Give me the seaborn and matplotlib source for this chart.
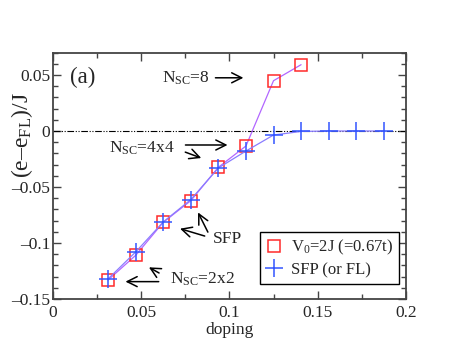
import matplotlib
matplotlib.use("Agg")
import matplotlib.pyplot as plt
from matplotlib.lines import Line2D
from matplotlib.ticker import MultipleLocator
import seaborn as sns
import pandas as pd

# data
doping_v0 = [0.03125, 0.046875, 0.0625, 0.078125, 0.09375, 0.109375, 0.125, 0.140625]
energy_v0 = [-0.133, -0.111, -0.0815, -0.0622, -0.0324, -0.0134, 0.0449, 0.0592]
doping_sfp = [0.03125, 0.046875, 0.0625, 0.078125, 0.09375, 0.109375, 0.125, 0.140625,
              0.15625, 0.171875, 0.1875]
energy_sfp = [-0.132, -0.108, -0.0812, -0.0612, -0.033, -0.0179, -0.0036, -0.0004,
              0.0, 0.0, 0.0]
legend_labels = [r"V$_0$=2J (=0.67t)", "SFP (or FL)"]
xticks = [0, 0.05, 0.1, 0.15, 0.2]
xticklabels = ["0", "0.05", "0.1", "0.15", "0.2"]
yticks = [-0.15, -0.1, -0.05, 0, 0.05]
yticklabels = ["\u20130.15", "\u20130.1", "\u20130.05", "0", "0.05"]

df_v0 = pd.DataFrame({"doping": doping_v0, "energy": energy_v0})
df_sfp = pd.DataFrame({"doping": doping_sfp, "energy": energy_sfp})

sns.set_style("ticks")
plt.rcParams["font.family"] = ["Liberation Serif", "DejaVu Serif"]
plt.rcParams["mathtext.fontset"] = "custom"
plt.rcParams["mathtext.rm"] = "Liberation Serif"
plt.rcParams["mathtext.it"] = "Liberation Serif"

fig = plt.figure(figsize=(4.57, 3.53), dpi=100)
ax = fig.add_axes([0.116, 0.153, 0.772, 0.698])

line_v0 = "#b266ff"
line_sfp = "#8a7cff"
red = "#ff2a2a"
blue = "#3355ff"

ax.axhline(0, color="black", lw=0.8, ls=(0, (6, 1.5, 1, 1.5, 1, 1.5)), zorder=1)

sns.lineplot(data=df_v0, x="doping", y="energy", ax=ax, color=line_v0, lw=0.9,
             marker="s", markersize=8.5, markerfacecolor="none",
             markeredgecolor=red, markeredgewidth=1.1, zorder=3)
sns.lineplot(data=df_sfp, x="doping", y="energy", ax=ax, color=line_sfp, lw=0.9,
             marker="+", markersize=13, markeredgecolor=blue,
             markeredgewidth=1.1, zorder=4)

ax.set_xlim(0, 0.2)
ax.set_ylim(-0.15, 0.07)
ax.set_xticks(xticks)
ax.set_xticklabels(xticklabels)
ax.set_yticks(yticks)
ax.set_yticklabels(yticklabels)
ax.xaxis.set_minor_locator(MultipleLocator(0.025))
ax.yaxis.set_minor_locator(MultipleLocator(0.01))
ax.tick_params(which="both", direction="in", top=True, right=True,
               labelsize=12.5, width=1.0, color="#444444")
ax.tick_params(which="major", length=6)
ax.tick_params(which="minor", length=3.5)
ax.tick_params(axis="y", pad=2)
ax.tick_params(axis="x", pad=4)
for s in ax.spines.values():
    s.set_linewidth(1.3)
    s.set_color("#444444")

ax.set_xlabel("doping", fontsize=12.5, labelpad=1)
ax.set_ylabel("(e\u2013e$_{\\mathrm{FL}}$)/J", fontsize=17)
ax.yaxis.set_label_coords(-0.05, 0.665)

ax.text(0.0095, 0.048, "(a)", fontsize=16.5, va="center", ha="left")

tfs = 12.5
ap = dict(arrowstyle="->", lw=1.1, color="black", mutation_scale=18)
# N_SC = 8
ax.text(0.062, 0.047, r"N$_{\mathrm{SC}}$=8", fontsize=tfs, va="center", ha="left")
ax.annotate("", xy=(0.1095, 0.0475), xytext=(0.0905, 0.0475), arrowprops=ap)
# N_SC = 4x4
ax.text(0.032, -0.0155, r"N$_{\mathrm{SC}}$=4x4", fontsize=tfs, va="center", ha="left")
ax.annotate("", xy=(0.1005, -0.0125), xytext=(0.0735, -0.0125), arrowprops=ap)
ax.annotate("", xy=(0.0855, -0.025), xytext=(0.0735, -0.018), arrowprops=ap)
# SFP
ax.text(0.0905, -0.0965, "SFP", fontsize=tfs, va="center", ha="left")
ax.annotate("", xy=(0.0815, -0.0705), xytext=(0.0885, -0.0925), arrowprops=ap)
ax.annotate("", xy=(0.0705, -0.0865), xytext=(0.0875, -0.0945), arrowprops=ap)
# N_SC = 2x2
ax.text(0.0665, -0.1325, r"N$_{\mathrm{SC}}$=2x2", fontsize=tfs, va="center", ha="left")
ax.annotate("", xy=(0.0395, -0.1345), xytext=(0.0615, -0.1345), arrowprops=ap)
ax.annotate("", xy=(0.053, -0.1205), xytext=(0.0615, -0.128), arrowprops=ap)

handles = [
    Line2D([], [], ls="none", marker="s", markersize=8.5, markerfacecolor="none",
           markeredgecolor=red, markeredgewidth=1.1),
    Line2D([], [], ls="none", marker="+", markersize=13, markeredgecolor=blue,
           markeredgewidth=1.1),
]
leg = ax.legend(handles, legend_labels, loc="lower right",
                bbox_to_anchor=(0.98, 0.061), fontsize=12, frameon=True,
                fancybox=False, edgecolor="black", framealpha=1,
                handlelength=1.0, handletextpad=0.5, borderpad=0.35,
                borderaxespad=0, labelspacing=0.3)
leg.get_frame().set_linewidth(1.0)

fig.savefig("out.png", dpi=100)
